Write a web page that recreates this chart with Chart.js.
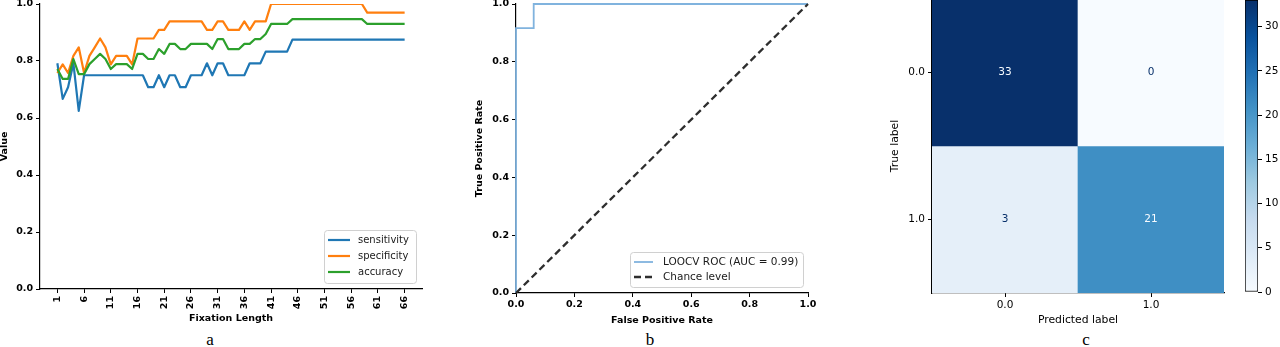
<!DOCTYPE html>
<html><head><meta charset="utf-8">
<script src="https://cdn.jsdelivr.net/npm/chart.js@4.4.1/dist/chart.umd.min.js"></script>
<style>
html,body{margin:0;padding:0;background:#fff;width:1280px;height:347px;overflow:hidden;position:relative;}
canvas{position:absolute;}
.cap{position:absolute;font-family:'Liberation Serif','DejaVu Serif',serif;font-size:17px;color:#000;transform:translateX(-50%);line-height:1;}
</style></head><body>
<canvas id="ca" width="430" height="330" style="left:0;top:0"></canvas>
<canvas id="cb" width="400" height="330" style="left:440px;top:0"></canvas>
<canvas id="cc" width="375" height="332" style="left:860px;top:-2px"></canvas>
<canvas id="cbar" width="80" height="330" style="left:1200px;top:0"></canvas>
<div class="cap" style="left:210px;top:331px">a</div>
<div class="cap" style="left:650px;top:331px">b</div>
<div class="cap" style="left:1086px;top:331px">c</div>
<script>
// ---------- Panel a data ----------
const fixationLength = [1,2,3,4,5,6,7,8,9,10,11,12,13,14,15,16,17,18,19,20,21,22,23,24,25,26,27,28,29,30,31,32,33,34,35,36,37,38,39,40,41,42,43,44,45,46,47,48,49,50,51,52,53,54,55,56,57,58,59,60,61,62,63,64,65,66];
const sensitivity = [0.792,0.667,0.708,0.792,0.625,
  0.75,0.75,0.75,0.75,0.75,0.75,0.75,0.75,0.75,0.75,0.75,0.75,
  0.708,0.708,0.75,0.708,0.75,0.75,0.708,0.708,0.75,0.75,0.75,0.792,0.75,0.792,0.792,
  0.75,0.75,0.75,0.75,
  0.792,0.792,0.792,
  0.833,0.833,0.833,0.833,0.833,
  0.875,0.875,0.875,0.875,0.875,0.875,0.875,0.875,0.875,0.875,0.875,
  0.875,0.875,0.875,0.875,0.875,0.875,0.875,0.875,0.875,0.875,0.875];
const specificity = [0.758,0.788,0.758,0.818,0.848,0.758,0.818,0.848,0.879,0.848,0.788,
  0.818,0.818,0.818,0.788,
  0.879,0.879,0.879,0.879,0.909,0.909,
  0.939,0.939,0.939,0.939,0.939,0.939,0.939,
  0.909,0.909,0.939,0.939,0.909,0.909,0.909,0.939,0.909,0.939,0.939,0.939,
  1.0,1.0,1.0,1.0,1.0,1.0,1.0,1.0,1.0,1.0,1.0,1.0,1.0,1.0,1.0,1.0,1.0,1.0,
  0.970,0.970,0.970,0.970,0.970,0.970,0.970,0.970];
const accuracy = [0.772,0.737,0.737,0.807,0.754,0.754,0.789,0.807,0.825,0.807,0.772,
  0.789,0.789,0.789,0.772,
  0.825,0.825,0.807,0.807,0.842,0.825,0.860,0.860,0.842,0.842,
  0.860,0.860,0.860,0.860,0.842,0.877,0.877,
  0.842,0.842,0.842,0.860,0.860,0.877,0.877,0.895,
  0.930,0.930,0.930,0.930,
  0.947,0.947,0.947,0.947,0.947,0.947,0.947,0.947,0.947,0.947,0.947,0.947,0.947,0.947,
  0.930,0.930,0.930,0.930,0.930,0.930,0.930,0.930];
const xTicksA = [1,6,11,16,21,26,31,36,41,46,51,56,61,66];
const yTicksA = [0,0.2,0.4,0.6,0.8,1.0];

// ---------- Panel b data ----------
const rocFpr = [0,0,0.0606,0.0606,1.0];
const rocTpr = [0,0.9167,0.9167,1.0,1.0];
const chanceX = [0,1];
const chanceY = [0,1];
const rocTicks = [0,0.2,0.4,0.6,0.8,1.0];

// ---------- Panel c data ----------
const trueLabels = ['0.0','1.0'];
const predLabels = ['0.0','1.0'];
const cm = [[33,0],[3,21]];
const cbarTicks = [0,5,10,15,20,25,30];

// ---------- styles ----------
Chart.defaults.font.family = "'DejaVu Sans', sans-serif";
Chart.defaults.color = '#000';
const BLUES = [[247,251,255],[222,235,247],[198,219,239],[158,202,225],[107,174,214],[66,146,198],[33,113,181],[8,81,156],[8,48,107]];
function blues(t){
  t = Math.max(0, Math.min(1, t));
  const p = t*(BLUES.length-1), k = Math.min(Math.floor(p), BLUES.length-2), f = p-k;
  const c = BLUES[k].map((v,i)=>Math.round(v + (BLUES[k+1][i]-v)*f));
  return `rgb(${c[0]},${c[1]},${c[2]})`;
}
const fix = size => s => {
  if (s.isHorizontal()) s.height = size; else s.width = size;
  s.paddingLeft = s.paddingRight = s.paddingTop = s.paddingBottom = 0;
};
const setTicks = arr => s => { s.ticks = arr.map(v => ({value: v})); };
const boldFont = {family:"'DejaVu Sans', sans-serif", size:9.5, weight:'bold', lineHeight:1};
const regFont = {family:"'DejaVu Sans', sans-serif", size:10.5, weight:'normal', lineHeight:1};
const tickGrid = {display:true, drawOnChartArea:false, drawTicks:true, tickLength:4, color:'#000', lineWidth:1};
const axisBorder = {display:true, color:'#000', width:1.2};

const boxLegend = {
  id:'boxLegend',
  afterDatasetsDraw(chart, args, o){
    if (!o || !o.w) return;
    const ctx = chart.ctx;
    ctx.save();
    ctx.beginPath();
    if (ctx.roundRect) ctx.roundRect(o.x+0.5, o.y+0.5, o.w, o.h, 3); else ctx.rect(o.x+0.5, o.y+0.5, o.w, o.h);
    ctx.fillStyle = 'rgba(255,255,255,0.85)';
    ctx.fill();
    ctx.strokeStyle = '#d0d0d0';
    ctx.lineWidth = 1;
    ctx.stroke();
    chart.data.datasets.forEach((ds, i) => {
      const cy = o.row0 + i*o.rowH;
      ctx.beginPath();
      ctx.strokeStyle = ds.borderColor;
      ctx.lineWidth = ds.borderWidth;
      ctx.setLineDash(ds.borderDash || []);
      ctx.moveTo(o.hx, cy); ctx.lineTo(o.hx + o.hw, cy);
      ctx.stroke();
      ctx.setLineDash([]);
      ctx.fillStyle = '#1a1a1a';
      ctx.font = o.font;
      ctx.textBaseline = 'middle';
      ctx.textAlign = 'left';
      ctx.fillText(ds.label, o.tx, cy);
    });
    ctx.restore();
  }
};

// ---------- Panel a ----------
const pts = arr => fixationLength.map((x,i) => ({x, y: arr[i]}));
new Chart(document.getElementById('ca'), {
  type:'line',
  data:{datasets:[
    {label:'sensitivity', data:pts(sensitivity), borderColor:'#1f77b4', borderWidth:2.2, order:3},
    {label:'specificity', data:pts(specificity), borderColor:'#ff7f0e', borderWidth:2.2, order:2},
    {label:'accuracy', data:pts(accuracy), borderColor:'#2ca02c', borderWidth:2.2, order:1}
  ]},
  options:{
    responsive:false, animation:false, events:[],
    layout:{padding:{left:0,right:8,top:4,bottom:0}},
    elements:{point:{radius:0}, line:{tension:0, borderJoinStyle:'round'}},
    plugins:{legend:{display:false}, tooltip:{enabled:false},
      boxLegend:{x:324, y:230, w:92, h:53, row0:240, rowH:16, hx:328, hw:22, tx:358, font:"10px 'DejaVu Sans'"}},
    scales:{
      x:{type:'linear', min:-2.25, max:69.25, z:1, afterBuildTicks:setTicks(xTicksA), afterFit:fix(41),
        ticks:{autoSkip:false, minRotation:90, maxRotation:90, font:boldFont, color:'#000', padding:3, callback:v=>String(v)},
        grid:tickGrid, border:axisBorder,
        title:{display:true, text:'Fixation Length', font:boldFont, color:'#000', padding:{top:0,bottom:7}}},
      y:{type:'linear', min:0, max:1, z:1, afterBuildTicks:setTicks(yTicksA), afterFit:fix(40),
        ticks:{font:boldFont, color:'#000', padding:3, callback:v=>Number(v).toFixed(1)},
        grid:tickGrid, border:axisBorder,
        title:{display:true, text:'Value', font:boldFont, color:'#000', padding:{top:0,bottom:0}}}
    }
  },
  plugins:[boxLegend]
});

// ---------- Panel b ----------
new Chart(document.getElementById('cb'), {
  type:'line',
  data:{datasets:[
    {label:'LOOCV ROC (AUC = 0.99)', data:rocFpr.map((x,i)=>({x, y:rocTpr[i]})), borderColor:'#80b3de', borderWidth:1.8, order:2, clip:false},
    {label:'Chance level', data:chanceX.map((x,i)=>({x, y:chanceY[i]})), borderColor:'#2e2e2e', borderWidth:2.3, borderDash:[7,4], order:1, clip:false}
  ]},
  options:{
    responsive:false, animation:false, events:[],
    layout:{padding:{left:0,right:32,top:4,bottom:0}},
    elements:{point:{radius:0}, line:{tension:0}},
    plugins:{legend:{display:false}, tooltip:{enabled:false},
      boxLegend:{x:190, y:252, w:173, h:35, row0:262, rowH:15, hx:194, hw:19, tx:223, font:"10.5px 'DejaVu Sans'"}},
    scales:{
      x:{type:'linear', min:0, max:1, z:1, afterBuildTicks:setTicks(rocTicks), afterFit:fix(37),
        ticks:{font:boldFont, color:'#000', padding:3, callback:v=>Number(v).toFixed(1)},
        grid:tickGrid, border:axisBorder,
        title:{display:true, text:'False Positive Rate', font:boldFont, color:'#000', padding:{top:0,bottom:5}}},
      y:{type:'linear', min:0, max:1, z:1, afterBuildTicks:setTicks(rocTicks), afterFit:fix(76),
        ticks:{font:boldFont, color:'#000', padding:3, callback:v=>Number(v).toFixed(1)},
        grid:tickGrid, border:axisBorder,
        title:{display:true, text:'True Positive Rate', font:boldFont, color:'#000', padding:{top:35,bottom:0}}}
    }
  },
  plugins:[boxLegend]
});

// ---------- Panel c ----------
const flat = cm.flat();
const vmin = Math.min(...flat), vmax = Math.max(...flat);
const cellText = {
  id:'cellText',
  afterDatasetsDraw(chart){
    const ctx = chart.ctx;
    ctx.save();
    ctx.font = "10.5px 'DejaVu Sans'";
    ctx.textAlign = 'center';
    ctx.textBaseline = 'middle';
    chart.data.datasets.forEach((ds,i) => {
      chart.getDatasetMeta(i).data.forEach((el,j) => {
        const v = cm[i][j];
        ctx.fillStyle = v > (vmax+vmin)/2 ? blues(0) : blues(1);
        ctx.fillText(String(v), el.x, (el.y+el.base)/2);
      });
    });
    ctx.restore();
  }
};
new Chart(document.getElementById('cc'), {
  type:'bar',
  data:{labels:predLabels, datasets:trueLabels.map((t,i) => ({
    label:t, data:cm[i].map(() => [i, i+1]),
    backgroundColor:cm[i].map(v => blues((v-vmin)/(vmax-vmin))),
    grouped:false, barPercentage:1, categoryPercentage:1, borderWidth:0
  }))},
  options:{
    responsive:false, animation:false, events:[],
    layout:{padding:{left:0,right:11,top:1,bottom:0}},
    plugins:{legend:{display:false}, tooltip:{enabled:false}},
    scales:{
      x:{afterFit:fix(37), z:1,
        ticks:{font:regFont, color:'#000', padding:3},
        grid:Object.assign({}, tickGrid, {offset:false}), border:axisBorder,
        title:{display:true, text:'Predicted label', font:{family:"'DejaVu Sans', sans-serif", size:10.8, lineHeight:1}, color:'#000', padding:{top:0,bottom:4.6}}},
      y:{type:'linear', min:0, max:trueLabels.length, reverse:true, z:1,
        afterBuildTicks:s => { s.ticks = trueLabels.map((_,i) => ({value:i+0.5})); }, afterFit:fix(72),
        ticks:{font:regFont, color:'#000', padding:3, callback:(v,i) => trueLabels[i]},
        grid:tickGrid, border:axisBorder,
        title:{display:true, text:'True label', font:{family:"'DejaVu Sans', sans-serif", size:10.8, lineHeight:1}, color:'#000', padding:{top:29.6,bottom:0}}}
    }
  },
  plugins:[cellText]
});

// ---------- Colorbar ----------
new Chart(document.getElementById('cbar'), {
  type:'bar',
  data:{labels:[''], datasets:[{
    data:[[vmin, vmax]],
    backgroundColor:c => {
      const a = c.chart.chartArea;
      if (!a) return blues(0.5);
      const g = c.chart.ctx.createLinearGradient(0, a.bottom, 0, a.top);
      BLUES.forEach((col,k) => g.addColorStop(k/(BLUES.length-1), `rgb(${col[0]},${col[1]},${col[2]})`));
      return g;
    },
    borderColor:'#000', borderWidth:1, borderSkipped:false, barPercentage:1, categoryPercentage:1
  }]},
  options:{
    responsive:false, animation:false, events:[],
    layout:{padding:{left:45,right:0,top:0,bottom:38}},
    plugins:{legend:{display:false}, tooltip:{enabled:false}},
    scales:{
      x:{display:false},
      y:{position:'right', min:vmin, max:vmax, afterBuildTicks:setTicks(cbarTicks), afterFit:fix(22),
        ticks:{font:regFont, color:'#000', padding:3},
        grid:tickGrid, border:{display:false}}
    }
  }
});
</script>
</body></html>
